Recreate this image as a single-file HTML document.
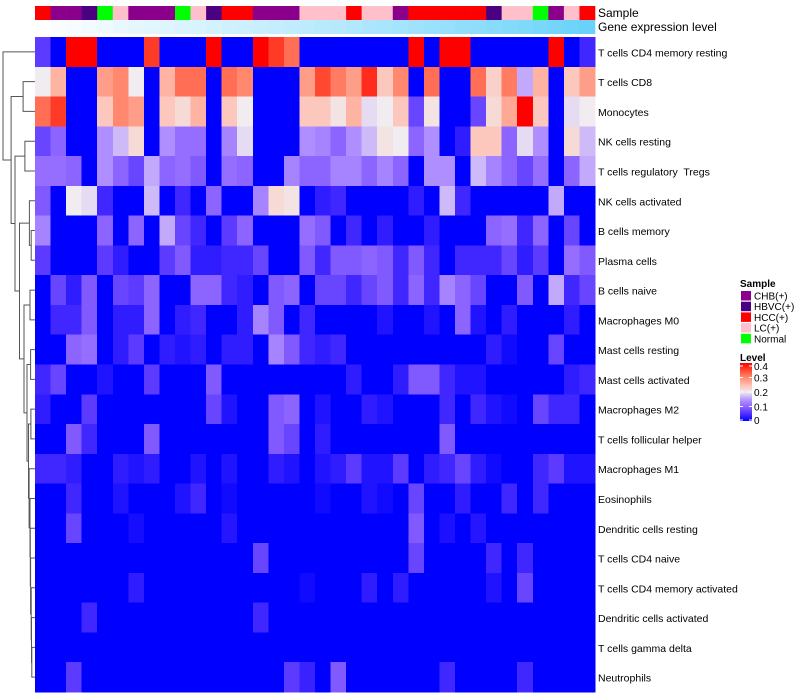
<!DOCTYPE html>
<html><head><meta charset="utf-8"><style>
body{margin:0;background:#fff;}
svg{display:block;font-family:"Liberation Sans",sans-serif;}
text{white-space:pre;}
</style></head><body>
<svg id="chart" width="800" height="700" viewBox="0 0 800 700" xmlns="http://www.w3.org/2000/svg"></svg>
<script>
const rowLabels=["T cells CD4 memory resting","T cells CD8","Monocytes","NK cells resting","T cells regulatory  Tregs","NK cells activated","B cells memory","Plasma cells","B cells naive","Macrophages M0","Mast cells resting","Mast cells activated","Macrophages M2","T cells follicular helper","Macrophages M1","Eosinophils","Dendritic cells resting","T cells CD4 naive","T cells CD4 memory activated","Dendritic cells activated","T cells gamma delta","Neutrophils"];
const sampleGroups=["HCC(+)","CHB(+)","CHB(+)","HBVC(+)","Normal","LC(+)","CHB(+)","CHB(+)","CHB(+)","Normal","LC(+)","HBVC(+)","HCC(+)","HCC(+)","CHB(+)","CHB(+)","CHB(+)","LC(+)","LC(+)","LC(+)","HCC(+)","LC(+)","LC(+)","CHB(+)","HCC(+)","HCC(+)","HCC(+)","HCC(+)","HCC(+)","HBVC(+)","LC(+)","LC(+)","Normal","CHB(+)","LC(+)","HCC(+)"];
const geneLevels=[0.0,0.03,0.05,0.07,0.09,0.12,0.14,0.16,0.18,0.2,0.22,0.24,0.26,0.28,0.3,0.32,0.34,0.36,0.38,0.4,0.42,0.45,0.47,0.5,0.52,0.55,0.57,0.6,0.62,0.65,0.68,0.7,0.73,0.76,0.79,0.82];
const groupNames=["CHB(+)","HBVC(+)","HCC(+)","LC(+)","Normal"];
const groupColors=["#8B008B","#4B0082","#FF0000","#FFC0CB","#00FF00"];
const levelTicks=[0,0.1,0.2,0.3,0.4];
const r0=[.06,0,.4,.4,0,0,0,.36,0,0,0,.4,0,0,.4,.36,.32,0,0,0,0,0,0,0,.4,0,.4,.4,0,0,0,0,0,.4,0,.04];
const r1=[.2,.26,0,0,.28,.3,.2,0,.26,.32,.32,0,.32,.3,0,0,0,.28,.35,.31,.28,.37,.24,.3,0,.32,0,0,.32,.23,.31,.16,.26,0,.24,.28];
const r2=[.32,.36,0,0,.24,.3,.28,0,.24,.22,.26,0,.24,.2,0,0,0,.24,.24,.21,.26,.19,.2,.24,.07,.21,0,0,.07,.22,.27,.4,.24,0,.19,.2];
const r3=[.07,.1,0,0,.14,.17,.22,0,.14,.11,.11,0,.13,.19,0,0,0,.14,.13,.1,.14,.17,.21,.2,.1,.14,0,.03,.24,.24,.1,.19,.14,0,.22,.17];
const r4=[.11,.11,.1,0,.14,.1,.07,.16,.1,.11,.09,0,.11,.1,0,0,.13,.1,.1,.13,.13,.1,.13,.1,0,.14,.14,0,.17,.13,.1,.07,.11,0,.1,.16];
const r5=[.09,0,.2,.19,.04,0,0,.17,0,.04,0,.1,0,0,.13,.22,.21,0,.03,.04,0,0,0,0,.03,0,.17,.04,0,0,0,0,0,.16,0,0];
const r6=[.13,0,0,0,.1,0,.1,0,.16,.07,.04,0,.06,.1,0,0,0,.11,.09,0,.04,0,.03,0,0,.03,0,0,0,.1,.11,.04,.1,0,.07,0];
const r7=[.06,0,0,0,.06,.03,0,0,.06,.09,.03,.03,.04,.04,.07,0,0,.09,.04,.09,.09,.1,.09,.04,.09,.04,0,.04,.04,.04,.07,.03,.06,0,.11,.09];
const r8=[0,.07,.03,.09,0,.07,.06,.1,0,0,.1,.1,.04,.03,0,.09,.1,0,.07,.07,.04,.07,.09,.04,.1,.04,.13,.1,.07,0,0,.09,0,.16,.04,.07];
const r9=[0,.04,.04,.09,0,.03,.03,.1,0,.03,.04,0,0,.03,.13,.09,0,.04,0,0,0,0,.02,0,0,.02,0,.1,.02,0,.03,0,0,0,.03,0];
const r10=[0,0,.1,.11,0,.03,.06,0,.03,.02,.03,0,.03,.03,0,.13,.09,.04,.03,.04,0,0,0,0,0,0,0,0,0,.03,.01,0,0,.07,0,0];
const r11=[.04,.07,0,0,.02,0,0,.06,0,0,0,.09,0,0,0,0,0,0,0,0,.03,0,0,.03,.09,.09,.04,.02,.02,0,0,0,0,0,.03,.04];
const r12=[.03,0,0,.06,0,0,0,0,0,0,0,.07,.02,0,0,.09,.1,0,.02,0,0,.03,.02,0,0,0,.04,0,.04,.02,.01,0,.07,.04,.04,0];
const r13=[0,0,.09,.04,0,0,0,.09,0,0,0,0,0,0,0,.09,.07,0,.03,0,0,0,0,0,0,0,.09,0,0,0,0,0,0,0,0,0];
const r14=[.04,.04,.03,0,0,.03,.02,.03,0,0,.02,0,.02,0,0,.03,.02,0,.02,.03,.06,.02,.02,.06,0,.03,.04,.07,.03,.01,0,0,.04,.06,.02,.02];
const r15=[0,0,.04,0,0,.02,0,0,0,.02,.04,0,.01,0,0,0,0,0,.01,0,0,.02,.01,0,.07,0,0,.03,0,0,.04,0,.04,0,0,0];
const r16=[0,0,.07,0,0,0,.014,0,0,0,0,0,.023,0,0,0,0,0,0,0,0,0,0,0,.09,0,.017,0,.023,0,0,0,0,0,0,0];
const r17=[0,0,0,0,0,0,0,0,0,0,0,0,0,0,.07,0,0,0,0,0,0,0,0,0,.07,0,0,0,0,.04,0,.04,0,0,0,0];
const r18=[0,0,0,0,0,0,.03,0,0,0,0,0,0,0,0,0,0,.01,0,0,0,.03,0,.03,0,0,0,0,0,.02,0,.07,0,0,0,0];
const r19=[0,0,0,.04,0,0,0,0,0,0,0,0,0,0,.04,0,0,0,0,0,0,0,0,0,0,0,0,0,0,0,0,0,0,0,0,0];
const r20=[0,0,0,0,0,0,0,0,0,0,0,0,0,0,0,0,0,0,0,0,0,0,0,0,0,0,0,0,0,0,0,0,0,0,0,0];
const r21=[0,0,.06,0,0,0,0,0,0,0,0,0,0,0,0,0,.06,.035,0,.09,0,0,0,0,0,0,.04,0,0,0,0,.04,0,0,0,0];
const values=[r0,r1,r2,r3,r4,r5,r6,r7,r8,r9,r10,r11,r12,r13,r14,r15,r16,r17,r18,r19,r20,r21];
const tree=[1.0,0,[0.73,[0.33,1,2],[0.6,[0.27,3,4],[0.45,[0.12,5,[0.06,6,7]],[0.3,[0.1,8,9],[0.2,[0.08,10,11],[0.15,[0.07,12,13],[0.13,14,[0.1,15,[0.09,16,[0.08,17,[0.06,18,[0.05,19,[0.04,20,21]]]]]]]]]]]]]];

const svg=document.getElementById('chart');
const NS='http://www.w3.org/2000/svg';
const X0=35,X1=595,Y0=37,Y1=692;
const nCol=values[0].length,nRow=values.length;
const cw=(X1-X0)/nCol,rh=(Y1-Y0)/nRow;
const xs=i=>X0+i*cw, ys=j=>Y0+j*rh;
const stops=[[0,0,0,255],[0.05,80,48,255],[0.1,140,100,255],[0.15,184,152,255],[0.2,240,236,240],[0.25,255,190,176],[0.3,255,136,110],[0.35,255,72,48],[0.4,255,0,0]];
function col(v){v=Math.max(0,Math.min(0.4,v));for(let k=1;k<stops.length;k++){if(v<=stops[k][0]){const a=stops[k-1],b=stops[k],t=(v-a[0])/(b[0]-a[0]);return 'rgb('+[1,2,3].map(q=>Math.round(a[q]+t*(b[q]-a[q]))).join(',')+')';}}return 'rgb(255,0,0)';}
function mk(tag,at,parent){const e=document.createElementNS(NS,tag);for(const k in at)e.setAttribute(k,at[k]);(parent||svg).appendChild(e);return e;}
function txt(s,at,parent){const e=mk('text',at,parent);e.textContent=s;return e;}

const gS=mk('g',{});


sampleGroups.forEach((g,i)=>{const r=mk('rect',{x:xs(i),y:6,width:cw+0.3,height:14,fill:groupColors[groupNames.indexOf(g)]},gS);

});
const gG=mk('g',{});


geneLevels.forEach((v,i)=>{const c='rgb('+Math.round(255-v*(255-72))+','+Math.round(255-v*(255-200))+','+Math.round(255-v*(255-248))+')';
const r=mk('rect',{x:xs(i),y:20,width:cw+0.3,height:14,fill:c},gG);

});
const t1=txt('Sample',{x:598,y:17,'font-size':12,fill:'#000'});


const t2=txt('Gene expression level',{x:598,y:31,'font-size':12,fill:'#000'});



const gH=mk('g',{'shape-rendering':'crispEdges'});


values.forEach((row,j)=>row.forEach((v,i)=>{const r=mk('rect',{x:xs(i),y:ys(j),width:cw+0.4,height:rh+0.4,fill:col(v)},gH);

}));
rowLabels.forEach((s,j)=>{const t=txt(s,{x:598,y:ys(j)+rh/2+4.5,'font-size':10.5,fill:'#000'});

});

const gD=mk('g',{stroke:'#555','stroke-width':1,fill:'none'});


const hx=h=>X0-2-h*30;
function draw(n){if(typeof n==='number')return {x:X0,y:ys(n)+rh/2};
const a=draw(n[1]),b=draw(n[2]),x=hx(n[0]);
mk('path',{d:`M${a.x},${a.y}H${x}V${b.y}H${b.x}`},gD);
return {x:x,y:(a.y+b.y)/2};}
draw(tree);

const gL=mk('g',{});


txt('Sample',{x:740,y:287,'font-size':10,'font-weight':'bold'},gL);
groupNames.forEach((g,k)=>{const y=291+k*10.7;
const r=mk('rect',{x:741,y:y,width:10,height:9.5,fill:groupColors[k]},gL);


const t=txt(g,{x:754,y:y+8.5,'font-size':10},gL);

});
const gC=mk('g',{});


txt('Level',{x:740,y:361,'font-size':10,'font-weight':'bold'},gC);
const defs=mk('defs',{});const lg=mk('linearGradient',{id:'lv',x1:0,y1:1,x2:0,y2:0},defs);
stops.forEach(s=>mk('stop',{offset:s[0]/0.4,'stop-color':col(s[0])},lg));
const CB0=421,CB1=363;const cy=v=>CB0-(v/0.4)*(CB0-CB1)+ (v===0.4?3:0)-(v===0?1:0);
mk('rect',{x:740,y:CB1,width:12,height:CB0-CB1,fill:'url(#lv)'},gC);
levelTicks.forEach(v=>{const y=cy(v);
mk('line',{x1:740,x2:743,y1:y,y2:y,stroke:'#fff'},gC);mk('line',{x1:749,x2:752,y1:y,y2:y,stroke:'#fff'},gC);
const t=txt(String(v),{x:754,y:y+4,'font-size':10},gC);

});
</script>
</body></html>
